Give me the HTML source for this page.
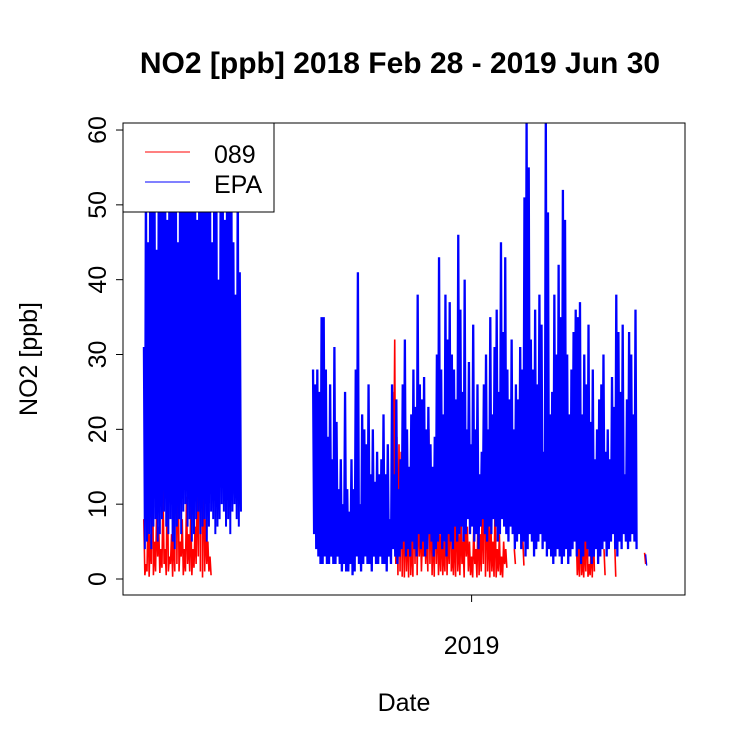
<!DOCTYPE html>
<html><head><meta charset="utf-8"><style>
html,body{margin:0;padding:0;background:#fff;}
svg{display:block;font-family:"Liberation Sans",Arial,sans-serif;}
</style></head><body>
<svg id="chart" width="750" height="750" viewBox="0 0 750 750">
<rect width="750" height="750" fill="#fff"/>
<text x="400" y="73" text-anchor="middle" font-size="30" font-weight="bold">NO2 [ppb] 2018 Feb 28 - 2019 Jun 30</text>
<text x="404" y="711" text-anchor="middle" font-size="25">Date</text>
<text transform="translate(37,359) rotate(-90)" text-anchor="middle" font-size="25">NO2 [ppb]</text>
<defs><clipPath id="pc"><rect x="123" y="123" width="562" height="472"/></clipPath></defs>
<g id="series" clip-path="url(#pc)"></g>
<g id="axes"></g>
<rect x="123" y="123" width="562" height="472" fill="none" stroke="#000" stroke-width="1"/>
<g>
<rect x="123" y="123" width="151" height="89" fill="#fff" stroke="#000" stroke-width="1"/>
<line x1="145" y1="152" x2="190" y2="152" stroke="#f00"/>
<text x="214" y="163" font-size="25">089</text>
<line x1="145" y1="182" x2="190" y2="182" stroke="#00f"/>
<text x="214" y="193" font-size="25">EPA</text>
</g>
</svg>
<script>
// Days since 2018-02-28; 2-day bins: high value then low value
const yTicks = [0, 10, 20, 30, 40, 50, 60];
const xTickLabels = ["2019"];
const xTickDays = [307];
const epa1Start = 0;
const epa1High = [31,62,45,62,58,62,44,62,55,62,60,48,62,62,55,62,45,62,62,53,62,62,58,62,62,48,62,55,62,62,50,62,45,62,58,40,62,55,48,62,50,62,45,38,62,41];
const epa1Low = [4,5,6,4,7,8,5,6,8,9,7,6,8,5,4,7,8,6,9,10,7,8,5,6,8,9,6,7,8,5,7,9,8,6,7,8,10,9,7,8,6,9,10,8,7,9];
const epa2Start = 158.5;
const epa2High = [28,26,28,25,35,35,28,19,26,16,31,21,12,16,10,25,12,9,16,12,28,41,10,22,20,18,26,14,20,13,17,14,16,22,14,18,8,26,14,24,12,16,26,32,20,15,22,28,23,38,26,24,27,20,23,18,15,19,30,43,28,22,38,32,37,30,28,24,46,36,25,40,20,29,18,34,20,26,14,17,26,30,20,35,22,31,36,25,45,33,43,28,24,32,20,26,24,31,28,51,62,55,32,28,36,26,38,34,17,62,49,22,25,38,30,42,35,52,48,30,22,28,33,36,35,37,22,30,26,34,21,28,16,20,24,26,30,17,20,16,27,23,38,33,25,34,14,24,33,30,22,36];
const epa2Low = [6,4,3,2,2,3,2,2,3,2,2,3,2,1,2,1,1,2,0.5,1,3,2,1,2,3,2,2,1,3,2,2,3,2,2,1,3,2,4,3,2,3,4,5,3,4,3,5,4,3,6,4,5,3,4,6,5,3,4,5,6,4,5,3,6,5,4,7,5,6,7,5,6,8,6,7,5,6,4,7,8,6,5,7,6,8,7,5,6,8,7,6,5,7,6,4,5,6,4,5,3,4,6,5,3,4,5,6,4,5,3,4,3,2,3,4,3,2,3,4,2,3,4,5,3,4,2,3,5,4,3,2,3,4,2,3,4,5,3,4,5,6,4,3,5,4,6,5,4,5,6,5,4];
const epa3Start = 470;
const epa3High = [3.3];
const epa3Low = [1.8];
const r1Start = 0;
const r1High = [8,2,10,6,22,5,9,7,4,12,4,16,3,6,8,55,20,5,8,4,11,6,10,4,7,15,35,62,20,8,5,3];
const r1Low = [0.5,1,0.3,2,0.5,1,3,0.8,1.5,2,0.5,1,2,0.3,1,2,1,3,0.5,1,2,1,0.5,1.5,2,3,1,0.2,1,2,1,0.5];
const r2Start = 233;
const r2High = [25,32,19,18,17,13,10,8,14,6,18,20,12,8,6,9,7,20,12,8,14,10,6,9,5,11,7,14,4,8,13,6,9,5,10,7,5,3,7,4,9,6,11,21,14,9,8,5,11,4,6,3,5,4,null,null,null,4,null,null,null,5,null,null,null,null,null,null,null,null,null,null,null,null,null,null,null,null,null,null,null,null,null,null,null,null,6,4,8,3,6,9,2,5,7,null,null,null,null,4,null,null,null,null,5,null,null,null,null,null,null,null,null,null,null,null,null,null,3.5];
const r2Low = [12,2,0.5,1,0.3,0.2,1,0.2,0.5,0.3,2,0.5,3,1,3,2,1,2,0.5,0.3,2,0.5,1,0.5,1,0.5,2,1,0.5,0.3,1,0.5,2,0.2,3,1,0.5,0.2,2,0.2,0.5,1,2,0.3,1,0.2,1,0.3,0.2,1,0.5,0.2,2,1.5,null,null,null,2,null,null,null,1.8,null,null,null,null,null,null,null,null,null,null,null,null,null,null,null,null,null,null,null,null,null,null,null,null,0.5,0.3,0.5,0.2,1,0.3,0.5,0.2,1,null,null,null,null,0.5,null,null,null,null,0.3,null,null,null,null,null,null,null,null,null,null,null,null,null,2];

const NS = "http://www.w3.org/2000/svg";
const X0 = 143.8, PXD = 520 / 487;
function xScale(d) { return X0 + d * PXD; }
function yScale(v) { return 579 - v * 7.483; }

function buildPath(start, high, low) {
  let d = "", pen = false;
  for (let i = 0; i < high.length; i++) {
    const t = start + i * 2;
    if (high[i] == null) { pen = false; continue; }
    d += (pen ? "L" : "M") + xScale(t).toFixed(2) + "," + yScale(high[i]).toFixed(2);
    d += "L" + xScale(t + 1).toFixed(2) + "," + yScale(low[i]).toFixed(2);
    pen = true;
  }
  return d;
}
const g = document.getElementById("series");
function addSeries(start, high, low, color, width, name) {
  const p = document.createElementNS(NS, "path");
  p.setAttribute("d", buildPath(start, high, low));
  p.setAttribute("fill", "none");
  p.setAttribute("stroke", color);
  p.setAttribute("stroke-width", width);
  p.setAttribute("stroke-linejoin", "bevel");
  
  
  g.appendChild(p);
}
addSeries(r1Start, r1High, r1Low, "#f00", "1.6", "series-089-part1");
addSeries(r2Start, r2High, r2Low, "#f00", "1.6", "series-089-part2");
addSeries(epa1Start, epa1High, epa1Low, "#00f", "2", "series-epa-part1");
addSeries(epa2Start, epa2High, epa2Low, "#00f", "2.3", "series-epa-part2");
addSeries(epa3Start, epa3High, epa3Low, "#00f", "1.3", "series-epa-part3");

const ax = document.getElementById("axes");
const yl = document.createElementNS(NS, "line");
yl.setAttribute("x1", 123); yl.setAttribute("x2", 123);
yl.setAttribute("y1", yScale(yTicks[0])); yl.setAttribute("y2", yScale(yTicks[yTicks.length - 1]));
yl.setAttribute("stroke", "#000");


ax.appendChild(yl);
yTicks.forEach(v => {
  const y = yScale(v);
  const t = document.createElementNS(NS, "line");
  t.setAttribute("x1", 116); t.setAttribute("x2", 123); t.setAttribute("y1", y); t.setAttribute("y2", y);
  t.setAttribute("stroke", "#000");
  
  
  ax.appendChild(t);
  const l = document.createElementNS(NS, "text");
  l.setAttribute("transform", "translate(106," + y + ") rotate(-90)");
  l.setAttribute("text-anchor", "middle");
  l.setAttribute("font-size", "25");
  l.textContent = v;
  
  
  ax.appendChild(l);
});
xTickDays.forEach((d, i) => {
  const x = xScale(d);
  const t = document.createElementNS(NS, "line");
  t.setAttribute("x1", x); t.setAttribute("x2", x); t.setAttribute("y1", 595); t.setAttribute("y2", 602);
  t.setAttribute("stroke", "#000");
  
  
  ax.appendChild(t);
  const l = document.createElementNS(NS, "text");
  l.setAttribute("x", x); l.setAttribute("y", 654);
  l.setAttribute("text-anchor", "middle");
  l.setAttribute("font-size", "25");
  l.textContent = xTickLabels[i];
  
  
  ax.appendChild(l);
});
</script>
</body></html>
